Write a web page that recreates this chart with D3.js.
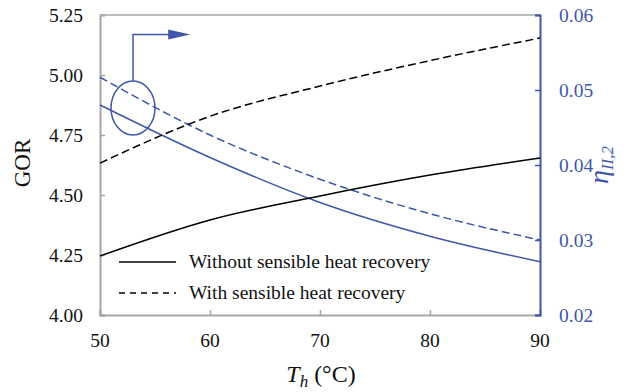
<!DOCTYPE html>
<html>
<head>
<meta charset="utf-8">
<script src="https://cdn.jsdelivr.net/npm/d3@7"></script>
<style>
  body { margin: 0; background: #fff; }
</style>
</head>
<body>
<div id="graph"></div>
<script>
// data
var temps = [50, 60, 70, 80, 90];
var gorWithout = [4.246, 4.396, 4.496, 4.583, 4.654];
var gorWith = [4.633, 4.828, 4.954, 5.060, 5.154];
var etaWithout = [0.0480, 0.0410, 0.0350, 0.0305, 0.0271];
var etaWith = [0.0517, 0.0440, 0.0381, 0.0335, 0.0300];

var xTicks = [50, 60, 70, 80, 90];
var gorTicks = [4.00, 4.25, 4.50, 4.75, 5.00, 5.25];
var etaTicks = [0.02, 0.03, 0.04, 0.05, 0.06];
var legendLabels = ["Without sensible heat recovery", "With sensible heat recovery"];

var SVGwidth = 633, SVGheight = 392,
	margin = {top: 15, right: 93, bottom: 77, left: 100},
	width = SVGwidth - margin.left - margin.right,
	height = SVGheight - margin.top - margin.bottom;

var blue = "#3f57a8", gray = "#a6a6a6";
var serif = "'Liberation Serif', 'Times New Roman', 'DejaVu Serif', serif";

var svg = d3.select("#graph").append("svg")
	.attr("width", SVGwidth)
	.attr("height", SVGheight)
	.style("font-family", serif);

var g = svg.append("g").attr("transform", "translate(" + margin.left + "," + margin.top + ")");

var x = d3.scaleLinear().domain([50, 90]).range([0, width]);
var yL = d3.scaleLinear().domain([4.0, 5.25]).range([height, 0]);
var yR = d3.scaleLinear().domain([0.02, 0.06]).range([height, 0]);

// frame: top line
g.append("line").attr("x1", 0).attr("x2", width).attr("y1", 0).attr("y2", 0)
	.attr("stroke", gray).attr("stroke-width", 1.5);

// left axis
var yAxisL = g.append("g").call(d3.axisRight(yL).tickValues(gorTicks).tickSize(5).tickFormat(""));
yAxisL.select(".domain").attr("stroke", gray).attr("stroke-width", 2);
yAxisL.selectAll(".tick line").attr("stroke", gray).attr("stroke-width", 1.5);
g.selectAll(".lt").data(gorTicks).enter().append("text")
	.attr("x", -17).attr("y", function(d){ return yL(d); })
	.attr("dy", "0.35em").attr("text-anchor", "end")
	.style("font-family", serif).style("font-size", "19.5px").attr("fill", "#111")
	.text(d3.format(".2f"));

// bottom axis
var xAxis = g.append("g").attr("transform", "translate(0," + height + ")")
	.call(d3.axisTop(x).tickValues(xTicks).tickSize(5).tickFormat(""));
xAxis.select(".domain").attr("stroke", gray).attr("stroke-width", 2);
xAxis.selectAll(".tick line").attr("stroke", gray).attr("stroke-width", 1.5);
g.selectAll(".xt").data(xTicks).enter().append("text")
	.attr("x", function(d){ return x(d); }).attr("y", height + 32)
	.attr("text-anchor", "middle")
	.style("font-family", serif).style("font-size", "19.5px").attr("fill", "#111")
	.text(function(d){ return d; });

// right axis
var yAxisR = g.append("g").attr("transform", "translate(" + width + ",0)")
	.call(d3.axisLeft(yR).tickValues(etaTicks).tickSize(5).tickFormat(""));
yAxisR.select(".domain").attr("stroke", blue).attr("stroke-width", 2);
yAxisR.selectAll(".tick line").attr("stroke", blue).attr("stroke-width", 1.5);
g.selectAll(".rt").data(etaTicks).enter().append("text")
	.attr("x", width + 19).attr("y", function(d){ return yR(d); })
	.attr("dy", "0.35em").attr("text-anchor", "start")
	.style("font-family", serif).style("font-size", "19.5px").attr("fill", blue)
	.text(d3.format(".2f"));

// lines
var lineL = function(vals){
	return d3.line().curve(d3.curveMonotoneX)
		.x(function(d, i){ return x(temps[i]); })
		.y(function(d){ return yL(d); })(vals);
};
var lineR = function(vals){
	return d3.line().curve(d3.curveMonotoneX)
		.x(function(d, i){ return x(temps[i]); })
		.y(function(d){ return yR(d); })(vals);
};

g.append("path").attr("d", lineR(etaWith)).attr("fill", "none")
	.attr("stroke", blue).attr("stroke-width", 1.5).attr("stroke-dasharray", "8,4");
g.append("path").attr("d", lineR(etaWithout)).attr("fill", "none")
	.attr("stroke", blue).attr("stroke-width", 1.5);
g.append("path").attr("d", lineL(gorWith)).attr("fill", "none")
	.attr("stroke", "#000").attr("stroke-width", 1.5).attr("stroke-dasharray", "8,4");
g.append("path").attr("d", lineL(gorWithout)).attr("fill", "none")
	.attr("stroke", "#000").attr("stroke-width", 1.5);

// ellipse + arrow pointing to the right axis
var cx = x(53), cy = yR(0.0476);
g.append("ellipse").attr("cx", cx).attr("cy", cy).attr("rx", 22).attr("ry", 27)
	.attr("fill", "none").attr("stroke", blue).attr("stroke-width", 1.5);
var ay = yR(0.0574);
g.append("path")
	.attr("d", "M" + cx + "," + (cy - 27) + "V" + ay + "H" + (x(56.4)))
	.attr("fill", "none").attr("stroke", blue).attr("stroke-width", 1.5);
g.append("path")
	.attr("d", "M" + x(56.2) + "," + (ay - 5) + "L" + x(58.2) + "," + ay + "L" + x(56.2) + "," + (ay + 5) + "Z")
	.attr("fill", blue);

// legend
var legend = g.selectAll(".legend").data(legendLabels).enter().append("g")
	.attr("transform", function(d, i){ return "translate(19," + (247 + i * 31) + ")"; });
legend.append("line").attr("x1", 0).attr("x2", 57).attr("y1", 0).attr("y2", 0)
	.attr("stroke", "#000").attr("stroke-width", 1.5)
	.attr("stroke-dasharray", function(d, i){ return i ? "6,5" : null; });
legend.append("text").attr("x", 70).attr("y", 6)
	.style("font-family", serif).style("font-size", "19.5px").attr("fill", "#111")
	.text(function(d){ return d; });

// axis titles
svg.append("text").attr("transform", "translate(30," + 163 + ") rotate(-90)")
	.attr("text-anchor", "middle")
	.style("font-family", serif).style("font-size", "23px").attr("fill", "#111")
	.text("GOR");

var xt = svg.append("text").attr("x", 321).attr("y", 382)
	.attr("text-anchor", "middle")
	.style("font-family", serif).style("font-size", "24px").attr("fill", "#111");
xt.append("tspan").style("font-style", "italic").text("T");
xt.append("tspan").style("font-style", "italic").style("font-size", "17px").attr("dy", 5).text("h");
xt.append("tspan").attr("dy", -5).text(" (°C)");

var rt = svg.append("text").attr("transform", "translate(608," + 165 + ") rotate(-90)")
	.attr("text-anchor", "middle")
	.style("font-family", serif).style("font-size", "28px").attr("fill", blue);
rt.append("tspan").style("font-style", "italic").text("η");
rt.append("tspan").style("font-style", "italic").style("font-size", "17px").attr("dy", 5).text("II,2");
</script>
</body>
</html>
